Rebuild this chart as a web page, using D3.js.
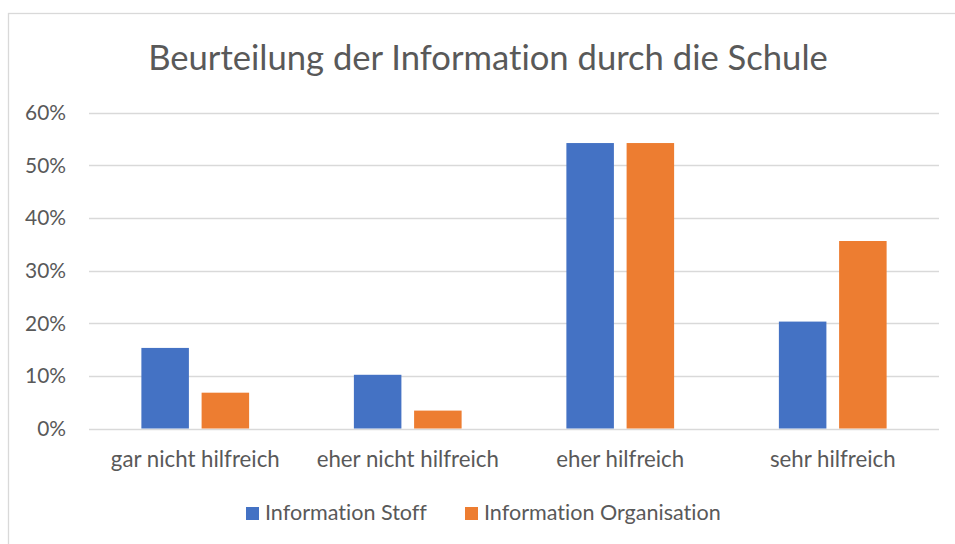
<!DOCTYPE html>
<html>
<head>
<meta charset="utf-8">
<script src="https://cdn.jsdelivr.net/npm/d3@7"></script>
<style>
  html, body { margin: 0; padding: 0; background: #fff; }
  svg { display: block; }
  text { font-family: Lato, "Open Sans", sans-serif; fill: #595959; font-variant-ligatures: none; font-feature-settings: "liga" 0, "clig" 0; }
</style>
</head>
<body>
<svg id="chart" width="955" height="544"></svg>
<script>
const categories = ["gar nicht hilfreich", "eher nicht hilfreich", "eher hilfreich", "sehr hilfreich"];
const seriesNames = ["Information Stoff", "Information Organisation"];
const stoffValues = [0.153, 0.102, 0.542, 0.203];
const organisationValues = [0.068, 0.034, 0.542, 0.356];
const yTicks = [0, 0.1, 0.2, 0.3, 0.4, 0.5, 0.6];
const title = "Beurteilung der Information durch die Schule";
const colors = ["#4472C4", "#ED7D31"];

const seriesValues = [stoffValues, organisationValues];
const data = categories.map((c, i) => ({ cat: c, vals: seriesValues.map((s, j) => ({ key: seriesNames[j], v: s[i], j })) }));

const svg = d3.select("#chart");

// outer border
svg.append("rect")
  .attr("x", 8.5).attr("y", 13.5).attr("width", 960).attr("height", 560)
  .attr("fill", "#fff").attr("stroke", "#D9D9D9").attr("stroke-width", 1.3);

const plot = { left: 89, right: 939, top: 112.5, bottom: 428.5 };

const x0 = d3.scaleBand().domain(categories).range([plot.left, plot.right])
  .paddingInner(0.493).paddingOuter(0.2465);
const x1 = d3.scaleBand().domain(seriesNames).range([0, x0.bandwidth()])
  .paddingInner(0.211).paddingOuter(0);
const y = d3.scaleLinear().domain([0, 0.6]).range([plot.bottom, plot.top]);

function fit(sel, target) {
  const w = sel.node().getComputedTextLength();
  const fs = parseFloat(sel.attr("font-size"));
  sel.attr("font-size", fs * target / w);
}

// title
const t = svg.append("text").attr("x", 488).attr("y", 70)
  .attr("text-anchor", "middle").attr("font-size", 31).text(title);
fit(t, 680);

// gridlines
svg.append("g").selectAll("line").data(yTicks).join("line")
  .attr("x1", plot.left).attr("x2", plot.right)
  .attr("y1", d => Math.round(y(d)) + 0.5).attr("y2", d => Math.round(y(d)) + 0.5)
  .attr("stroke", "#D9D9D9").attr("stroke-width", 1.3);

// y axis labels via d3 axis
const yAxis = d3.axisLeft(y).tickValues(yTicks).tickFormat(d3.format(".0%")).tickSize(0).tickPadding(0);
const ya = svg.append("g").attr("transform", `translate(66,0)`).call(yAxis);
ya.select(".domain").remove();
ya.selectAll("text").attr("font-size", 20).attr("fill", "#595959")
  .style("font-family", "Lato, 'Open Sans', sans-serif").attr("dy", "0.34em");
const tl = ya.selectAll("text").filter(d => d === 0.6);
const tlw = tl.node().getComputedTextLength();
ya.selectAll("text").attr("font-size", 20 * 41 / tlw);

// bars
const groups = svg.append("g").selectAll("g").data(data).join("g")
  .attr("transform", d => `translate(${x0(d.cat)},0)`);
groups.selectAll("rect").data(d => d.vals).join("rect")
  .attr("x", d => x1(d.key)).attr("width", x1.bandwidth())
  .attr("y", d => y(d.v)).attr("height", d => y(0) - y(d.v))
  .attr("fill", d => colors[d.j]);

// x axis labels
const xAxis = d3.axisBottom(x0).tickSize(0).tickPadding(0);
const xa = svg.append("g").attr("transform", `translate(0,${plot.bottom})`).call(xAxis);
xa.select(".domain").remove();
xa.selectAll("text").attr("font-size", 20).attr("fill", "#595959")
  .style("font-family", "Lato, 'Open Sans', sans-serif").attr("dy", 0).attr("y", 38.5);
const cl = xa.selectAll("text").filter(d => d === categories[0]);
const clw = cl.node().getComputedTextLength();
xa.selectAll("text").attr("font-size", 20 * 169 / clw);

// legend
const legendX = [246, 465];
const leg = svg.append("g").selectAll("g").data(seriesNames).join("g")
  .attr("transform", (d, i) => `translate(${legendX[i]},507)`);
leg.append("rect").attr("width", 13).attr("height", 13).attr("fill", (d, i) => colors[i]);
const lt = leg.append("text").attr("x", 19).attr("y", 13).attr("font-size", 20).text(d => d);
const lw = lt.filter((d, i) => i === 0).node().getComputedTextLength();
lt.attr("font-size", 20 * 162 / lw);
</script>
</body>
</html>
